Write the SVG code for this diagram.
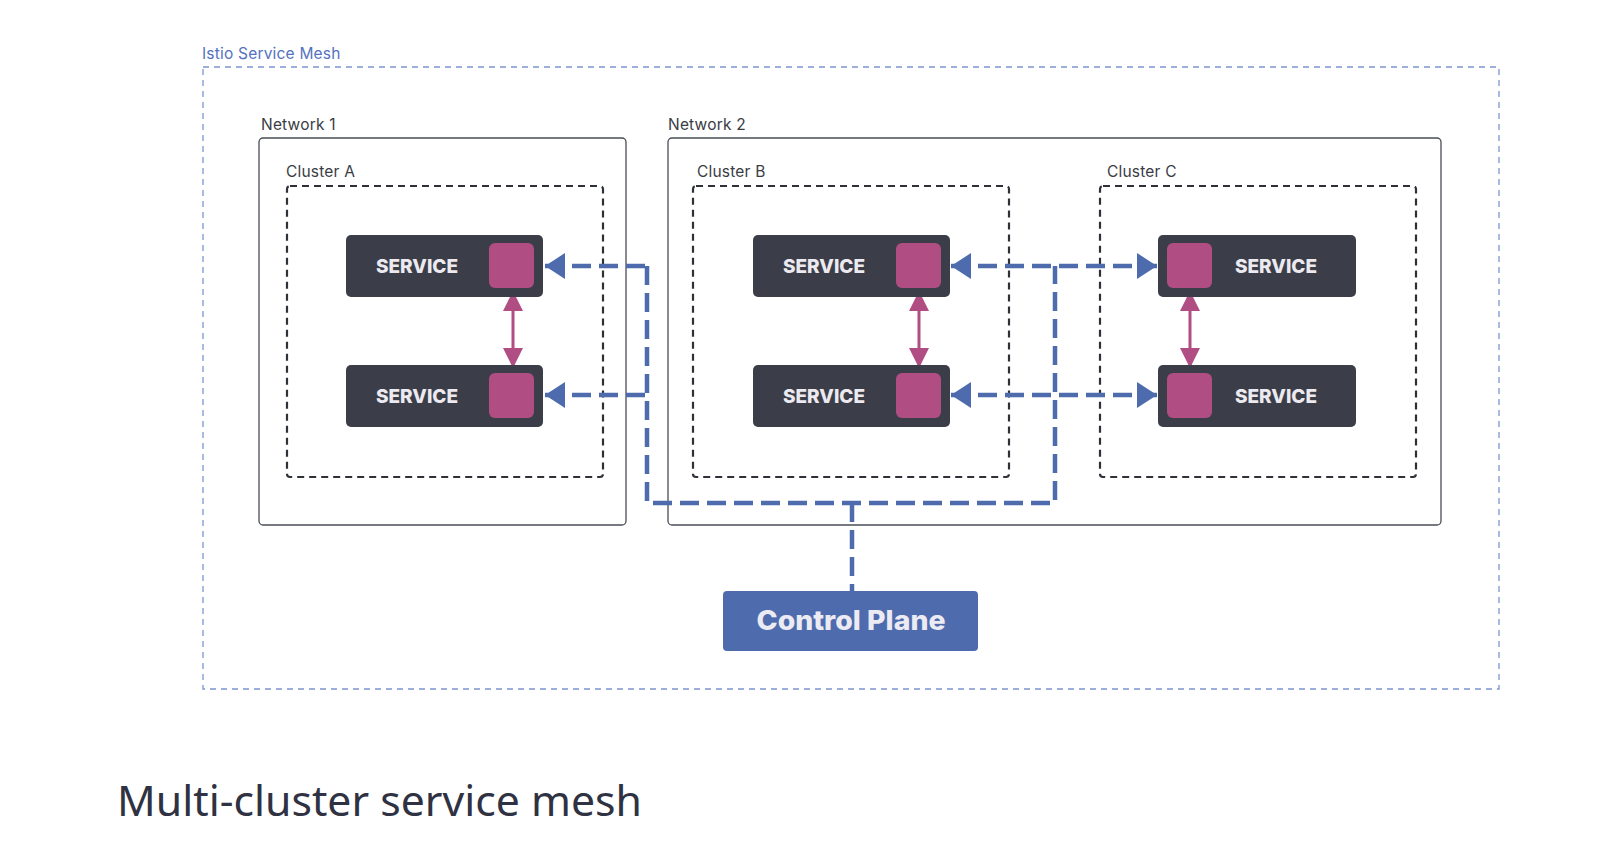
<svg xmlns="http://www.w3.org/2000/svg" width="1598" height="844" viewBox="0 0 1598 844">
<style>
.lbl{font-family:Inter,"Noto Sans",sans-serif;font-size:15.5px;fill:#3a3c44;letter-spacing:0.2px}
.svc rect.box{fill:#3b3e48}
.svc rect.sq{fill:#b04d82}
.svc text{font-family:Inter,"Noto Sans",sans-serif;font-weight:800;font-size:19px;fill:#eceaf0;text-anchor:middle}
.net{fill:none;stroke:#4a4d55;stroke-width:1.3}
.clu{fill:none;stroke:#2f3138;stroke-width:2.2;stroke-dasharray:7 5}
.blue{fill:none;stroke:#4e6cad;stroke-width:4.5;stroke-dasharray:19 8}
.pink{stroke:#b04d82;stroke-width:3}
</style>
<defs>
<marker id="ab" viewBox="0 0 20 26" refX="20" refY="13" markerWidth="20" markerHeight="26" markerUnits="userSpaceOnUse" orient="auto-start-reverse"><path d="M0,0 L20,13 L0,26 Z" fill="#4e6cad"/></marker>
<marker id="ap" viewBox="0 0 20 20" refX="20" refY="10" markerWidth="20" markerHeight="20" markerUnits="userSpaceOnUse" orient="auto-start-reverse"><path d="M0,0 L20,10 L0,20 Z" fill="#b04d82"/></marker>
</defs>
<rect width="1598" height="844" fill="#ffffff"/>

<g id="mesh">
<rect x="203" y="67" width="1296" height="622" fill="none" stroke="#7c95cf" stroke-width="1.3" stroke-dasharray="6 5"/>
<text x="202" y="59" style="font-family:Inter,'Noto Sans',sans-serif;font-size:15.5px;fill:#5472c0;letter-spacing:0.2px">Istio Service Mesh</text>
</g>

<g id="network1">
<rect class="net" x="259" y="138" width="367" height="387" rx="4"/>
<text class="lbl" x="261" y="130">Network 1</text>
</g>
<g id="network2">
<rect class="net" x="668" y="138" width="773" height="387" rx="4"/>
<text class="lbl" x="668" y="130">Network 2</text>
</g>

<g id="clusterA">
<rect class="clu" x="287" y="186" width="316" height="291" rx="3"/>
<text class="lbl" x="286" y="177">Cluster A</text>
</g>
<g id="clusterB">
<rect class="clu" x="693" y="186" width="316" height="291" rx="3"/>
<text class="lbl" x="697" y="177">Cluster B</text>
</g>
<g id="clusterC">
<rect class="clu" x="1100" y="186" width="316" height="291" rx="3"/>
<text class="lbl" x="1107" y="177">Cluster C</text>
</g>

<g id="connectors">
<path class="blue" d="M647,266 L647,503 L1055,503 L1055,266"/>
<path class="blue" d="M852,503 L852,591"/>
<line class="blue" x1="545" y1="266" x2="647" y2="266" marker-start="url(#ab)"/>
<line class="blue" x1="545" y1="395" x2="647" y2="395" marker-start="url(#ab)"/>
<line class="blue" x1="951" y1="266" x2="1157" y2="266" marker-start="url(#ab)" marker-end="url(#ab)"/>
<line class="blue" x1="951" y1="395" x2="1157" y2="395" marker-start="url(#ab)" marker-end="url(#ab)"/>
<line class="pink" x1="513" y1="291" x2="513" y2="368" marker-start="url(#ap)" marker-end="url(#ap)"/>
<line class="pink" x1="919" y1="291" x2="919" y2="368" marker-start="url(#ap)" marker-end="url(#ap)"/>
<line class="pink" x1="1190" y1="291" x2="1190" y2="368" marker-start="url(#ap)" marker-end="url(#ap)"/>
</g>

<g id="svcA1" class="svc"><rect class="box" x="346" y="235" width="197" height="62" rx="5"/><rect class="sq" x="489" y="243" width="45" height="45" rx="6"/><text x="417" y="273">SERVICE</text></g>
<g id="svcA2" class="svc"><rect class="box" x="346" y="365" width="197" height="62" rx="5"/><rect class="sq" x="489" y="373" width="45" height="45" rx="6"/><text x="417" y="403">SERVICE</text></g>
<g id="svcB1" class="svc"><rect class="box" x="753" y="235" width="197" height="62" rx="5"/><rect class="sq" x="896" y="243" width="45" height="45" rx="6"/><text x="824" y="273">SERVICE</text></g>
<g id="svcB2" class="svc"><rect class="box" x="753" y="365" width="197" height="62" rx="5"/><rect class="sq" x="896" y="373" width="45" height="45" rx="6"/><text x="824" y="403">SERVICE</text></g>
<g id="svcC1" class="svc"><rect class="box" x="1158" y="235" width="198" height="62" rx="5"/><rect class="sq" x="1167" y="243" width="45" height="45" rx="6"/><text x="1276" y="273">SERVICE</text></g>
<g id="svcC2" class="svc"><rect class="box" x="1158" y="365" width="198" height="62" rx="5"/><rect class="sq" x="1167" y="373" width="45" height="45" rx="6"/><text x="1276" y="403">SERVICE</text></g>

<g id="controlPlane">
<rect x="723" y="591" width="255" height="60" rx="4" fill="#4e6cad"/>
<text x="851" y="630" text-anchor="middle" textLength="189" lengthAdjust="spacingAndGlyphs" style="font-family:Inter,'Noto Sans',sans-serif;font-weight:800;font-size:27px;fill:#eceaf2">Control Plane</text>
</g>

<text x="117" y="816" textLength="525" lengthAdjust="spacingAndGlyphs" style="font-family:'Noto Sans',Inter,sans-serif;font-size:42px;fill:#2f3242">Multi-cluster service mesh</text>
</svg>
